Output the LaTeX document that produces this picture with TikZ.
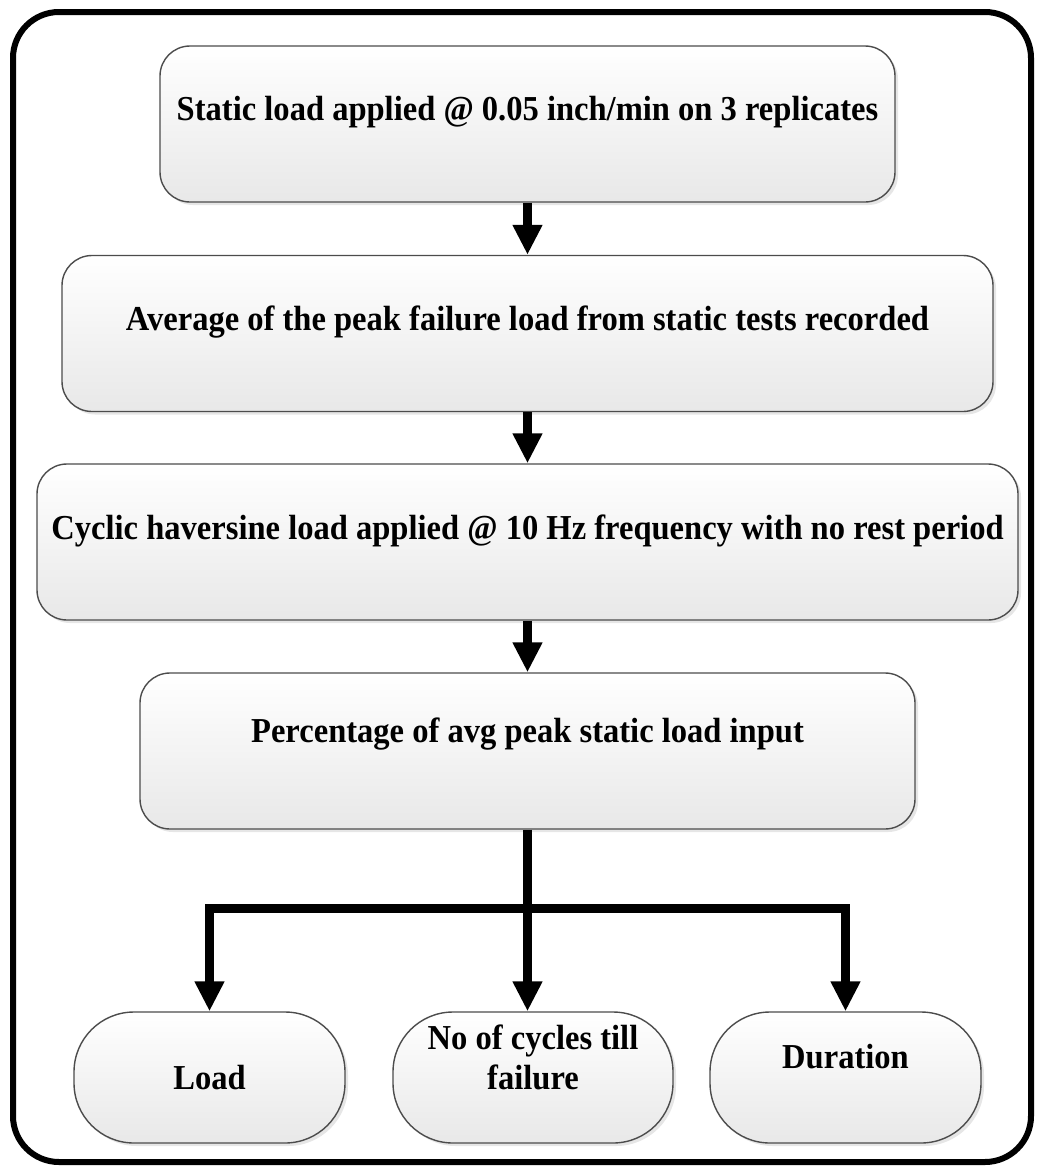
\documentclass[tikz,border=0pt]{standalone}
\usepackage{fontspec}
\setmainfont{Liberation Serif}[FakeStretch=0.93]
\usetikzlibrary{arrows.meta,shadows,positioning}

\tikzset{
  stage/.style={draw=black!70, line width=0.7pt, rounded corners=15pt,
    top color=white, bottom color=black!9,
    drop shadow={shadow xshift=1.5pt, shadow yshift=-1.5pt, opacity=0.2},
    minimum height=78pt, inner xsep=1pt, align=center, text height=12pt,
    font=\bfseries\fontsize{17.5}{20}\selectfont},
  result/.style={stage, rounded corners=30pt, minimum height=65.5pt},
  flow/.style={line width=4.5pt, -{Triangle[width=14pt,length=15pt]}},
}

\begin{document}
\begin{tikzpicture}[x=0.5pt, y=-0.5pt]
  \useasboundingbox (0,0) rectangle (1037,1167);
  \draw[line width=3pt, rounded corners=23pt] (13,12) rectangle (1031,1162);

  \foreach[count=\i] \stxt/\sy/\sw/\sd in {
      {Static load applied @ 0.05 inch/min on 3 replicates}/124/367.5/15.5,
      {Average of the peak failure load from static tests recorded}/333.5/465.5/15.5,
      {Cyclic haversine load applied @ 10 Hz frequency with no rest period}/542/490.5/15,
      {Percentage of avg peak static load input}/751/387.5/20.5} {
    \node[stage, minimum width=\sw pt, text depth=\sd pt] (s-\i) at (527.5,\sy) {\stxt};
  }
  \foreach \i/\j in {1/2,2/3,3/4}
    \draw[flow] (s-\i) -- (s-\j);

  \node[result, minimum width=135.5pt, text depth=0pt] (load) at (209.5,1077.5) {Load};
  \node[result, minimum width=140pt, text depth=0pt] (cycles) at (533,1077.5) {No of cycles till\\failure};
  \node[result, minimum width=135.5pt, text depth=21.5pt] (duration) at (845.5,1077.5) {Duration};

  \coordinate (split) at (527.5,908);
  \draw[flow] (s-4.south) -- (s-4.south |- cycles.north);
  \draw[flow] (split) -| (load);
  \draw[flow] (split) -| (duration);
\end{tikzpicture}
\end{document}
